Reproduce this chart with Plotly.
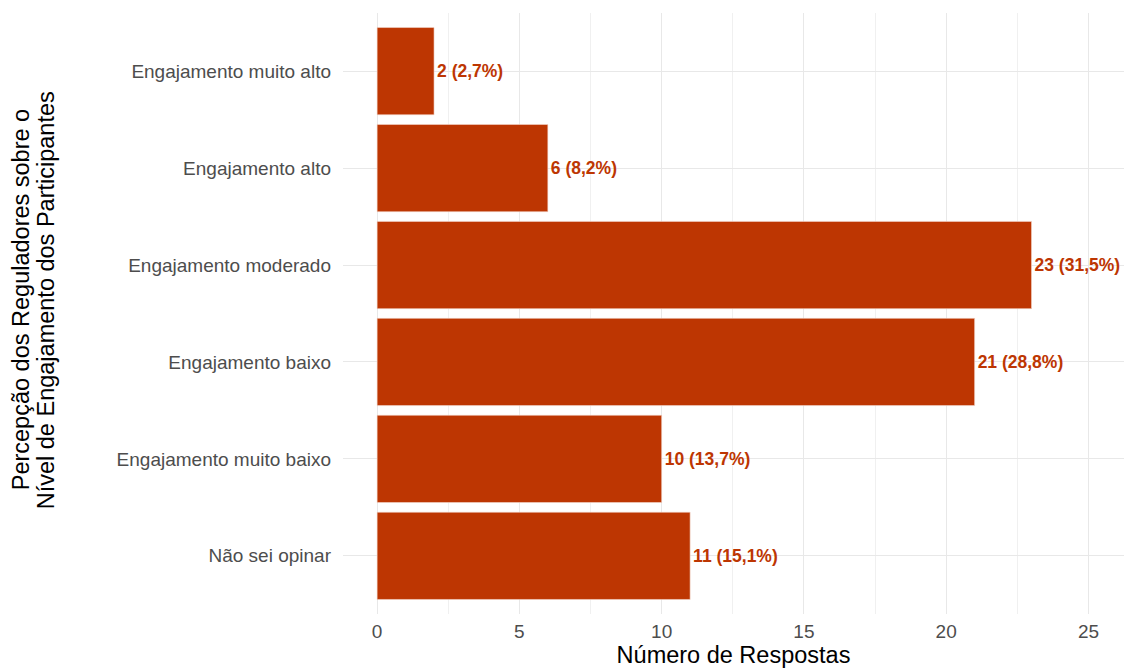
import plotly.graph_objects as go

categories = [
    "Não sei opinar",
    "Engajamento muito baixo",
    "Engajamento baixo",
    "Engajamento moderado",
    "Engajamento alto",
    "Engajamento muito alto",
]
counts = [11, 10, 21, 23, 6, 2]
percents = ["15,1%", "13,7%", "28,8%", "31,5%", "8,2%", "2,7%"]

labels = [f"{c} ({p})" for c, p in zip(counts, percents)]

y_title_lines = [
    "Percepção dos Reguladores sobre o",
    "Nível de Engajamento dos Participantes",
]

bar_color = "#BD3602"
font_family = "Liberation Sans, Arial, Helvetica, sans-serif"

fig = go.Figure(
    go.Bar(
        x=counts,
        y=categories,
        orientation="h",
        width=0.9,
        marker=dict(color=bar_color, line=dict(color="#f3d6cc", width=0.6)),
        text=labels,
        textposition="outside",
        cliponaxis=False,
        textfont=dict(family=font_family, size=17.5, color=bar_color, weight="bold"),
        hoverinfo="skip",
    )
)

# two-line rotated y-axis title, placed line by line
for i, line in enumerate(y_title_lines):
    fig.add_annotation(
        text=line,
        textangle=-90,
        xref="paper",
        yref="paper",
        x=(21 + 25 * i - 343) / 781,
        y=0.522,
        xanchor="center",
        yanchor="middle",
        showarrow=False,
        font=dict(family=font_family, size=23.5, color="black"),
    )

fig.update_layout(
    width=1124,
    height=671,
    margin=dict(l=343, r=0, t=13, b=57),
    paper_bgcolor="white",
    plot_bgcolor="white",
    showlegend=False,
    font=dict(family=font_family),
    xaxis=dict(
        range=[-1.2, 26.25],
        tickvals=[0, 5, 10, 15, 20, 25],
        ticktext=["0", "5", "10", "15", "20", "25"],
        showgrid=True,
        gridcolor="#e8e8e8",
        gridwidth=1.1,
        minor=dict(tickvals=[2.5, 7.5, 12.5, 17.5, 22.5], showgrid=True, gridcolor="#f0f0f0", gridwidth=0.6),
        zeroline=False,
        showline=False,
        ticks="",
        ticklabelstandoff=4,
        tickfont=dict(size=19, color="#4d4d4d"),
        title=dict(text="Número de Respostas", font=dict(size=23.5, color="black"), standoff=4),
        automargin=False,
    ),
    yaxis=dict(
        categoryorder="array",
        categoryarray=categories,
        range=[-0.6, 5.6],
        showgrid=True,
        gridcolor="#e8e8e8",
        gridwidth=1.1,
        zeroline=False,
        showline=False,
        ticks="",
        ticklabelstandoff=11,
        tickfont=dict(size=19, color="#4d4d4d"),
        automargin=False,
    ),
)

fig.write_html("out.html")
